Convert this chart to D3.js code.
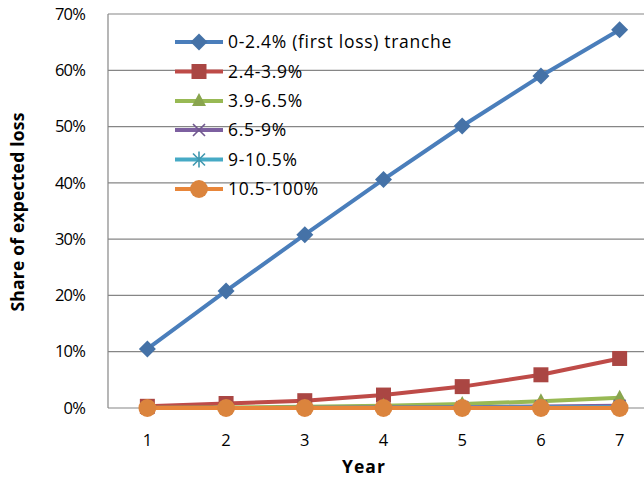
<!DOCTYPE html>
<html>
<head>
<meta charset="utf-8">
<script src="https://cdn.jsdelivr.net/npm/d3@7/dist/d3.min.js"></script>
<style>
  html, body { margin: 0; padding: 0; background: #fff; overflow: hidden; }
  svg { display: block; font-family: "Open Sans", Lato, "Liberation Sans", sans-serif; }
</style>
</head>
<body>
<svg id="chart" width="644" height="480"></svg>
<script>
// Share of expected loss absorbed by each tranche, by year
const years = [1, 2, 3, 4, 5, 6, 7];
const trancheNames = ["0-2.4% (first loss) tranche", "2.4-3.9%", "3.9-6.5%", "6.5-9%", "9-10.5%", "10.5-100%"];
const firstLoss   = [10.5, 20.8, 30.8, 40.6, 50.1, 59.0, 67.2];
const tranche2439 = [0.3, 0.8, 1.3, 2.3, 3.8, 5.9, 8.8];
const tranche3965 = [0.05, 0.1, 0.2, 0.4, 0.7, 1.2, 1.8];
const tranche659  = [0.0, 0.0, 0.05, 0.1, 0.15, 0.25, 0.4];
const tranche9105 = [0.0, 0.0, 0.0, 0.0, 0.05, 0.1, 0.15];
const tranche105  = [0.0, 0.0, 0.0, 0.0, 0.0, 0.0, 0.0];
const yTicks = [0, 10, 20, 30, 40, 50, 60, 70];

const seriesValues = [firstLoss, tranche2439, tranche3965, tranche659, tranche9105, tranche105];
const colors = ["#4A7EBB", "#BE4B48", "#98B954", "#7D60A0", "#46AAC5", "#E8863A"];
const markerColors = ["#4572A7", "#AA4643", "#89A54E", "#71588F", "#4198AF", "#DB843D"];
const markerTypes = ["diamond", "square", "triangle", "x", "star", "circle"];

const svg = d3.select("#chart");
const plot = { left: 108, top: 14, right: 659, bottom: 408 };

const x = d3.scaleBand().domain(years).range([plot.left, plot.right]);
const y = d3.scaleLinear().domain([0, 70]).range([plot.bottom, plot.top]);
const cx = d => x(d) + x.bandwidth() / 2;

// gridlines
svg.append("g").selectAll("line").data(yTicks).join("line")
  .attr("x1", plot.left).attr("x2", plot.right)
  .attr("y1", d => y(d)).attr("y2", d => y(d))
  .attr("stroke", "#868686").attr("stroke-width", 1.2);

// value axis line
svg.append("line").attr("x1", plot.left).attr("x2", plot.left)
  .attr("y1", plot.top).attr("y2", plot.bottom)
  .attr("stroke", "#868686").attr("stroke-width", 1.2);

// y tick labels
svg.append("g").selectAll("text").data(yTicks).join("text")
  .attr("x", 85).attr("y", d => y(d)).attr("dy", "0.35em")
  .attr("text-anchor", "end").attr("font-size", 16.5).attr("fill", "#000")
  .attr("letter-spacing", -0.8)
  .text(d => d + "%");

// x tick labels
svg.append("g").selectAll("text").data(years).join("text")
  .attr("x", d => cx(d)).attr("y", 440).attr("dy", "0.35em")
  .attr("text-anchor", "middle").attr("font-size", 16.5).attr("fill", "#000")
  .text(d => d);

// axis titles
svg.append("text").attr("x", 364).attr("y", 467).attr("dy", "0.35em")
  .attr("text-anchor", "middle").attr("font-size", 17.5).attr("font-weight", "bold")
  .attr("letter-spacing", 1)
  .text("Year");
svg.append("text").attr("transform", "translate(18,212) rotate(-90)").attr("dy", "0.35em")
  .attr("text-anchor", "middle").attr("font-size", 17.5).attr("font-weight", "bold")
  .attr("letter-spacing", 0.2)
  .text("Share of expected loss");

function markerPath(type) {
  switch (type) {
    case "diamond": return "M0,-8.5L8.5,0L0,8.5L-8.5,0Z";
    case "square": return "M-7.5,-7.5H7.5V7.5H-7.5Z";
    case "triangle": return "M0,-8L7,5H-7Z";
    case "circle": return d3.symbol(d3.symbolCircle, 250)();
    case "x": return "M-6,-6L6,6M-6,6L6,-6";
    case "star": return "M-6,-6L6,6M-6,6L6,-6M0,-8L0,8";
  }
}

function drawMarker(g, type, i) {
  const p = g.append("path").attr("d", markerPath(type));
  if (type === "x" || type === "star") {
    p.attr("fill", "none").attr("stroke", markerColors[i]).attr("stroke-width", 1.6);
  } else {
    p.attr("fill", markerColors[i]);
  }
}

const line = d3.line().x((d, i) => cx(years[i])).y(d => y(d));

svg.append("defs").append("clipPath").attr("id", "clip")
  .append("rect").attr("x", 0).attr("y", 0).attr("width", 644).attr("height", 480);

seriesValues.forEach((vals, i) => {
  const g = svg.append("g").attr("clip-path", "url(#clip)");
  g.append("path").datum(vals).attr("d", line)
    .attr("fill", "none").attr("stroke", colors[i]).attr("stroke-width", 4)
    .attr("stroke-linejoin", "round");
  vals.forEach((v, j) => {
    const m = g.append("g").attr("transform", `translate(${cx(years[j])},${y(v)})`);
    drawMarker(m, markerTypes[i], i);
  });
});

// legend
const legendRows = [42, 71.5, 101, 130, 159.5, 189];
trancheNames.forEach((name, i) => {
  const g = svg.append("g").attr("transform", `translate(0,${legendRows[i]})`);
  g.append("line").attr("x1", 175).attr("x2", 223).attr("y1", 0).attr("y2", 0)
    .attr("stroke", colors[i]).attr("stroke-width", 4);
  const m = g.append("g").attr("transform", "translate(199,0)");
  drawMarker(m, markerTypes[i], i);
  g.append("text").attr("x", 228).attr("y", 0).attr("dy", "0.35em")
    .attr("font-size", 17.5).attr("letter-spacing", 0.7).text(name);
});
</script>
</body>
</html>
